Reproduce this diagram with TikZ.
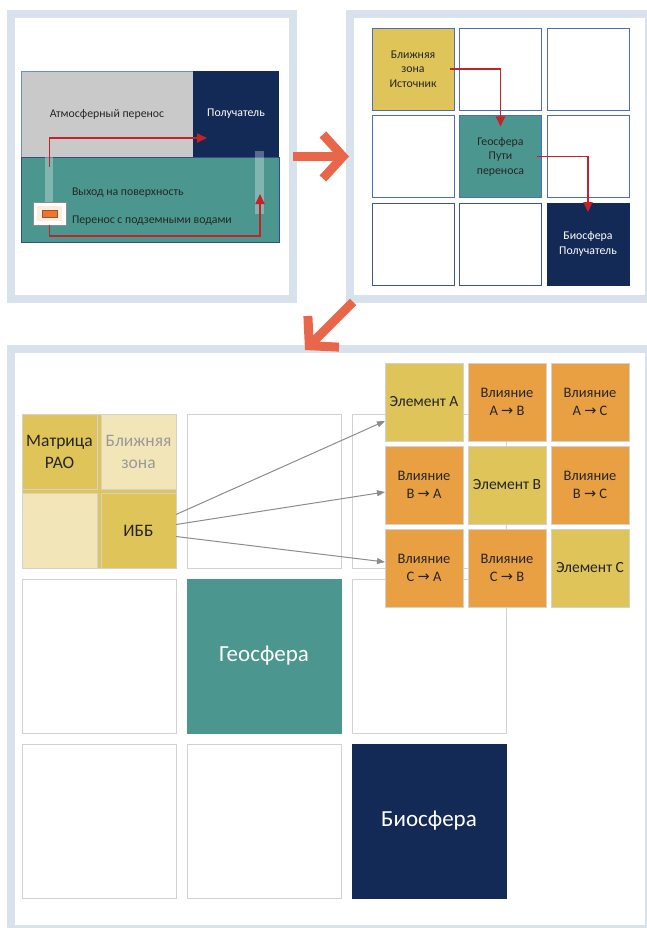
\documentclass[tikz,border=0pt]{standalone}
\usepackage{fontspec}
\setmainfont{Carlito}
\newfontfamily\arrowfont{DejaVu Sans}
\usetikzlibrary{arrows.meta,positioning,calc}

\definecolor{framecol}{HTML}{D7E2EC}
\definecolor{atmgray}{HTML}{C9C9C9}
\definecolor{navy}{HTML}{142A56}
\definecolor{geoteal}{HTML}{4B968E}
\definecolor{srcyellow}{HTML}{DEC459}
\definecolor{paleyellow}{HTML}{F2E6B9}
\definecolor{inforange}{HTML}{E9A043}
\definecolor{pathred}{HTML}{C42229}
\definecolor{bigorange}{HTML}{E8674B}
\definecolor{gridgray}{HTML}{D2D2D2}
\definecolor{cellblue}{HTML}{4A6FB8}
\definecolor{textdark}{HTML}{262626}

\newcommand{\infarrow}{{\arrowfont\char"2192}}

\begin{document}
\begin{tikzpicture}[
    x=1pt, y=-1pt,
    panel/.style={draw=framecol, line width=8pt, outer sep=0pt, inner sep=0pt, anchor=north west},
    zone/.style={rectangle, inner sep=0pt, outer sep=0pt, anchor=north west, text=textdark, font=\fontsize{11.8}{14.5}\selectfont},
    cellsmall/.style={rectangle, draw=cellblue, line width=0.8pt, minimum width=82pt, minimum height=82pt, inner sep=0pt, outer sep=0pt, anchor=north west, align=center, text=textdark, font=\fontsize{11.8}{14.5}\selectfont},
    cellbig/.style={rectangle, draw=gridgray, line width=0.8pt, minimum width=154pt, minimum height=154pt, inner sep=0pt, outer sep=0pt, anchor=north west, align=center, text=white, font=\fontsize{23}{28}\selectfont},
    subcell/.style={rectangle, draw=gridgray, line width=0.8pt, minimum width=75pt, minimum height=75pt, inner sep=0pt, outer sep=0pt, anchor=north west, align=center, text=textdark, font=\fontsize{17.5}{22}\selectfont},
    elemcell/.style={rectangle, draw=gridgray, line width=0.8pt, minimum width=78pt, minimum height=78pt, inner sep=0pt, outer sep=0pt, anchor=north west, align=center, text=textdark, font=\fontsize{14.5}{18}\selectfont},
    elemname/.style={font=\fontsize{15.5}{18}\selectfont},
    redpath/.style={draw=pathred, line width=1.8pt, -{Triangle[length=10pt,width=9pt]}},
    inflow/.style={draw=black!45, line width=1pt, -{Triangle[length=8pt,width=6pt]}},
    bigarrow/.style={draw=bigorange, line width=9pt, -{Straight Barb[length=20pt,width=44pt]}},
    bar/.style={fill=white, fill opacity=0.3}
]
\useasboundingbox (0,0) rectangle (647,928);

% Panels
\node[panel, minimum width=282pt, minimum height=285pt] (pnl1) at (11,14) {};
\node[panel, minimum width=299pt, minimum height=285pt] (pnl2) at (350,14) {};
\node[panel, minimum width=638pt, minimum height=580pt] (pnl3) at (11,349) {};

% Panel 1: transport scheme
\node[zone, fill=atmgray, draw=cellblue!80, line width=0.6pt, minimum width=172pt, minimum height=86pt] (atm) at (21,71) {Атмосферный перенос};
\node[zone, fill=navy, text=white, minimum width=86pt, minimum height=86pt] (rcv) at (193,71) {Получатель};
\node[zone, fill=geoteal, draw=cellblue!70!black, line width=0.6pt, minimum width=258pt, minimum height=85pt] (gnd) at (21,157) {};
\fill[bar] (45,157) rectangle (53,202);
\fill[bar] (255,151) rectangle (264,214);
\node[zone, anchor=west] (outlet) at (72,193) {Выход на поверхность};
\node[zone, anchor=west] (gwflow) at (72,221) {Перенос с подземными водами};
\node[zone, fill=white, draw=black!45, line width=0.8pt, minimum width=33pt, minimum height=23pt] (srcbox) at (33,202) {};
\node[fill=orange!15, minimum width=25pt, minimum height=15pt, inner sep=0pt] (srcfill) at (srcbox.center) {};
\node[fill=orange!75!red!90, draw=black!60, line width=0.6pt, minimum width=15pt, minimum height=7pt, inner sep=0pt] (srccore) at (srcbox.center) {};
\coordinate (atmstart) at (49.5,167);
\coordinate (atmend) at (207,138);
\coordinate (gwend) at (260,194);
\draw[redpath] (atmstart) |- (atmend);
\draw[redpath] (srcbox.south) -- ++(0,11) -| (gwend);

% Panel 2: source, pathways, receptor
\node[cellsmall, fill=srcyellow] (nearsrc) at (372,28) {Ближняя\\зона\\Источник};
\node[cellsmall, right=5.5pt of nearsrc] (top2) {};
\node[cellsmall, right=5.5pt of top2] (top3) {};
\node[cellsmall, below=5.5pt of nearsrc] (mid1) {};
\node[cellsmall, fill=geoteal, right=5.5pt of mid1] (geopath) {Геосфера\\Пути\\переноса};
\node[cellsmall, right=5.5pt of geopath] (mid3) {};
\node[cellsmall, draw=navy!80, below=5.5pt of mid1] (low1) {};
\node[cellsmall, draw=navy!80, right=5.5pt of low1] (low2) {};
\node[cellsmall, fill=navy, draw=navy, text=white, right=5.5pt of low2] (biorcv) {Биосфера\\Получатель};
\draw[redpath] ([xshift=-4pt]nearsrc.east) -| ([yshift=-11pt]geopath.north);
\draw[redpath] ([xshift=-5pt]geopath.east) -| ([yshift=-9pt]biorcv.north);

% Big arrows between panels
\draw[bigarrow] (pnl1.east) -- ([xshift=-1pt]pnl2.west);
\coordinate (diagtail) at (353,302);
\coordinate (diagtip) at (305,350);
\draw[bigarrow] (diagtail) -- (diagtip);

% Panel 3: big grid
\node[cellbig, fill=srcyellow, draw=gridgray] (nearfield) at (22,414) {};
\node[subcell, fill=srcyellow] (rao) at (22,414) {Матрица\\РАО};
\node[subcell, fill=paleyellow, text=black!40, right=4pt of rao] (nearzone) {Ближняя\\зона};
\node[subcell, fill=paleyellow, below=4pt of rao] (pale) {};
\node[subcell, fill=srcyellow, right=4pt of pale] (ibb) {ИББ};
\node[cellbig, right=11pt of nearfield] (r1c2) {};
\node[cellbig, right=11pt of r1c2] (r1c3) {};
\node[cellbig, below=11pt of nearfield] (r2c1) {};
\node[cellbig, fill=geoteal, draw=geoteal, right=11pt of r2c1] (geo) {Геосфера};
\node[cellbig, right=11pt of geo] (r2c3) {};
\node[cellbig, below=11pt of r2c1] (r3c1) {};
\node[cellbig, right=11pt of r3c1] (r3c2) {};
\node[cellbig, fill=navy, draw=navy, right=11pt of r3c2] (bio) {Биосфера};

% Panel 3: interaction matrix
\node[elemcell, elemname, fill=srcyellow] (elA) at (385,363) {Элемент A};
\node[elemcell, fill=inforange, right=5pt of elA] (infAB) {Влияние\\A \infarrow{} B};
\node[elemcell, fill=inforange, right=5pt of infAB] (infAC) {Влияние\\A \infarrow{} C};
\node[elemcell, fill=inforange, below=5pt of elA] (infBA) {Влияние\\B \infarrow{} A};
\node[elemcell, elemname, fill=srcyellow, right=5pt of infBA] (elB) {Элемент B};
\node[elemcell, fill=inforange, right=5pt of elB] (infBC) {Влияние\\B \infarrow{} C};
\node[elemcell, fill=inforange, below=5pt of infBA] (infCA) {Влияние\\C \infarrow{} A};
\node[elemcell, fill=inforange, right=5pt of infCA] (infCB) {Влияние\\C \infarrow{} B};
\node[elemcell, elemname, fill=srcyellow, right=5pt of infCB] (elC) {Элемент C};

\draw[inflow] ([yshift=16pt]ibb.east) -- ([yshift=-19pt]elA.west);
\draw[inflow] ([yshift=6pt]ibb.east) -- ([yshift=-7pt]infBA.west);
\draw[inflow] ([yshift=-6pt]ibb.east) -- ([yshift=6pt]infCA.west);
\end{tikzpicture}
\end{document}
